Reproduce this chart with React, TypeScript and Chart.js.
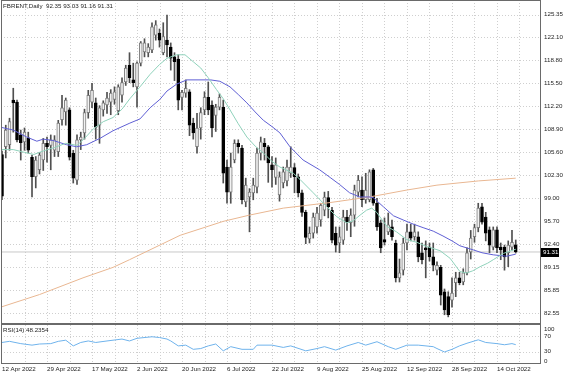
import React, { useEffect, useRef } from 'react';
import { Chart, registerables } from 'chart.js';

Chart.register(...registerables);

// ---------- data ----------
const symbolName = 'FBRENT,Daily';
const dateLabels = ['12 Apr 2022', '29 Apr 2022', '17 May 2022', '2 Jun 2022', '20 Jun 2022', '6 Jul 2022', '22 Jul 2022', '9 Aug 2022', '25 Aug 2022', '12 Sep 2022', '28 Sep 2022', '14 Oct 2022'];
const dateLabelBars = [0, 12, 24, 36, 48, 60, 72, 84, 96, 108, 120, 132];
const gridBars = [6, 12, 18, 24, 30, 36, 42, 48, 54, 60, 66, 72, 78, 84, 90, 96, 102, 108, 114, 120, 126, 132, 138];
const priceTicks = [125.35, 122.10, 118.80, 115.50, 112.20, 108.90, 105.60, 102.30, 99.00, 95.70, 92.40, 89.15, 85.85, 82.55];
const rsiTicks = [100, 70, 30, 0];
const rsiLevels = [70, 30];

const openP = [
  105.3, 106.4, 106.7, 113.1, 112.8, 108.1, 107.1, 107.7, 104.9, 102.1,
  103.1, 104.5, 106.9, 106.6, 105.9, 105.7, 110.3, 111.4, 111.7, 105.5,
  101.6, 107.4, 108.4, 111.3, 112.8, 112.7, 109.5, 111.7, 112.4, 112.8,
  113.2, 111.6, 113.8, 115.7, 118.1, 116.0, 115.0, 118.4, 120.0, 119.9,
  120.3, 122.4, 122.7, 119.9, 121.7, 120.7, 119.3, 119.0, 113.5, 114.1,
  114.3, 109.8, 106.4, 109.1, 111.7, 113.5, 112.4, 110.9, 112.1, 112.1,
  103.5, 99.9, 104.5, 106.9, 106.2, 98.5, 99.2, 99.8, 100.6, 105.5,
  106.9, 106.4, 103.8, 102.0, 99.5, 101.2, 101.5, 102.6, 103.4, 102.1,
  99.8, 97.0, 93.2, 94.0, 94.9, 95.9, 97.3, 99.1, 97.3, 94.0,
  92.6, 93.0, 96.3, 95.5, 96.6, 99.9, 100.2, 98.8, 98.8, 103.1,
  98.3, 95.5, 93.1, 94.2, 94.9, 92.6, 87.6, 88.7, 92.6, 94.2,
  93.5, 93.5, 91.2, 91.9, 92.0, 90.6, 88.7, 89.1, 85.6, 84.9,
  84.4, 86.9, 87.6, 87.0, 88.3, 91.3, 93.5, 94.8, 97.8, 96.3,
  94.5, 92.0, 94.5, 92.0, 92.0, 91.2, 92.0, 92.35,
];
const highP = [
  105.8, 109.5, 110.5, 114.8, 113.1, 108.8, 109.1, 108.5, 105.2, 105.0,
  105.6, 107.6, 107.8, 108.1, 108.0, 110.2, 113.8, 113.4, 112.0, 105.9,
  108.1, 108.5, 111.8, 114.5, 115.5, 113.4, 112.3, 113.0, 114.2, 114.6,
  115.0, 115.3, 116.3, 118.1, 119.9, 118.4, 118.6, 121.5, 121.9, 121.2,
  124.2, 124.5, 123.3, 124.2, 125.3, 121.3, 119.9, 119.6, 114.5, 116.0,
  114.6, 110.5, 111.2, 112.0, 114.3, 115.7, 113.0, 112.5, 114.0, 113.1,
  104.5, 105.5, 107.4, 107.4, 106.6, 101.9, 100.4, 101.9, 106.2, 107.8,
  107.6, 106.6, 105.0, 104.8, 102.8, 103.5, 104.5, 106.4, 104.0, 102.5,
  100.2, 97.3, 94.9, 96.9, 97.7, 98.3, 99.9, 100.0, 97.7, 94.9,
  94.9, 97.3, 97.3, 97.5, 100.9, 102.3, 102.1, 102.6, 103.1, 103.3,
  99.0, 95.9, 96.2, 96.9, 95.9, 93.0, 90.3, 93.3, 95.3, 95.3,
  95.3, 94.2, 92.6, 92.9, 92.6, 92.6, 89.9, 89.4, 86.0, 85.6,
  87.6, 88.4, 88.4, 88.9, 91.9, 94.4, 95.3, 98.3, 98.3, 97.0,
  94.9, 94.9, 94.9, 92.6, 92.3, 92.9, 94.4, 93.03,
];
const lowP = [
  98.8, 104.8, 105.9, 108.5, 107.1, 104.5, 105.9, 105.5, 99.2, 100.5,
  102.5, 103.0, 104.2, 103.1, 105.0, 105.0, 109.5, 109.5, 104.5, 101.2,
  101.0, 106.0, 107.5, 110.5, 112.0, 107.5, 106.9, 110.8, 111.2, 111.0,
  112.5, 111.0, 112.8, 115.2, 115.6, 115.0, 112.1, 118.0, 119.3, 119.3,
  119.9, 121.7, 120.7, 119.6, 119.3, 117.4, 115.9, 111.7, 111.7, 113.5,
  108.0, 107.5, 105.5, 107.5, 111.0, 111.0, 107.8, 108.6, 111.7, 101.2,
  98.3, 98.3, 104.1, 105.5, 98.2, 97.8, 94.2, 98.8, 99.8, 104.5,
  104.5, 101.3, 100.6, 101.0, 98.6, 100.5, 100.8, 102.0, 99.8, 99.2,
  96.4, 92.5, 92.6, 93.3, 94.0, 95.0, 96.5, 96.2, 92.6, 91.3,
  91.2, 92.4, 94.4, 93.5, 95.0, 99.2, 97.8, 98.3, 98.5, 98.0,
  94.4, 91.2, 92.3, 93.8, 93.0, 87.0, 87.0, 88.0, 91.6, 92.9,
  93.0, 89.9, 89.6, 87.6, 90.0, 88.6, 88.0, 83.7, 82.3, 82.0,
  83.4, 84.9, 86.6, 86.6, 88.0, 90.3, 92.7, 94.2, 95.3, 92.9,
  91.2, 91.6, 91.2, 90.2, 88.7, 89.2, 91.6, 91.16,
];
const closeP = [
  99.3, 108.8, 110.0, 112.7, 107.4, 107.0, 108.5, 105.9, 102.1, 104.5,
  105.2, 106.9, 106.4, 107.4, 107.4, 109.8, 112.0, 113.1, 104.9, 101.9,
  107.4, 107.8, 111.3, 113.8, 114.5, 109.2, 112.0, 112.7, 113.4, 114.1,
  114.3, 115.0, 115.6, 117.7, 116.3, 115.6, 118.4, 121.3, 121.3, 120.7,
  123.6, 123.9, 121.7, 122.2, 121.0, 119.1, 118.6, 113.1, 114.2, 114.8,
  109.5, 108.4, 109.1, 111.3, 113.5, 111.7, 109.1, 112.1, 113.5, 102.6,
  99.9, 103.5, 106.9, 106.4, 98.8, 100.9, 99.9, 100.9, 105.5, 107.1,
  106.4, 104.1, 103.1, 103.8, 102.1, 102.8, 103.5, 103.5, 102.1, 99.8,
  97.0, 93.4, 94.0, 96.3, 96.9, 98.0, 99.2, 97.8, 93.0, 92.3,
  93.5, 96.3, 95.6, 96.6, 100.2, 101.6, 98.8, 100.2, 102.8, 98.3,
  94.9, 91.9, 92.7, 95.2, 93.5, 87.6, 88.3, 92.6, 94.2, 93.3,
  94.2, 90.6, 90.2, 91.6, 90.6, 89.4, 89.4, 85.1, 83.0, 82.3,
  85.4, 87.6, 86.9, 88.3, 91.2, 93.3, 94.8, 97.6, 95.6, 94.0,
  92.3, 94.5, 91.9, 91.6, 90.6, 92.3, 92.7, 91.31,
];

// moving averages (bar position, value)
const maFastBars = [-0.3, 3, 6, 8.5, 11, 14, 17, 20, 22, 24.4, 27, 29.6, 32, 34.1, 36.8, 39.5, 42, 44, 46.6, 48.8, 51, 53, 55, 57.2, 59, 60.8, 63, 65.3, 67.5, 69.7, 72, 74.1, 77.7, 79.5, 83, 86.6, 89.2, 91.9, 93.7, 95.5, 97.2, 98.6, 99.9, 102.6, 105.2, 107.9, 110.6, 113.2, 116.8, 119.5, 122.1, 123.9, 125.5, 127.5, 129.5, 131, 133.7, 136.4, 137];
const maFastVals = [106.0, 106.0, 105.6, 105.3, 105.8, 106.3, 106.9, 106.6, 107.6, 109.0, 110.0, 110.6, 111.8, 113.3, 115.0, 116.8, 118.2, 119.1, 119.6, 119.6, 118.6, 117.7, 116.3, 114.6, 113.3, 111.7, 109.7, 107.8, 106.5, 105.5, 104.3, 103.5, 102.6, 101.7, 99.8, 97.8, 96.4, 95.5, 95.8, 96.6, 97.3, 97.6, 97.0, 95.0, 94.2, 93.1, 92.7, 92.1, 91.5, 90.4, 88.5, 88.3, 88.6, 89.2, 89.7, 90.2, 91.1, 91.6, 91.7];

const maMidBars = [-0.3, 3, 6.6, 9.3, 11, 13.7, 17.2, 19.9, 22.6, 26.1, 29.6, 34.1, 36.8, 39.5, 42.1, 44, 46.6, 49.3, 52, 55.6, 58.1, 60.8, 63, 65.3, 67.5, 69.7, 72, 74.1, 76.8, 80.3, 84.7, 87.5, 90, 92.7, 95.4, 98.1, 99, 101.7, 104.4, 107, 109.7, 112.3, 115, 117.6, 120, 122.1, 125.7, 128, 131, 134.6, 137];
const maMidVals = [109.2, 108.8, 107.8, 107.2, 107.5, 107.3, 106.7, 106.4, 106.7, 107.6, 108.7, 109.8, 110.4, 112.0, 113.2, 114.4, 115.4, 116.0, 116.0, 116.0, 115.8, 115.0, 113.9, 112.7, 111.4, 110.2, 109.3, 108.4, 106.4, 104.5, 103.1, 102.0, 101.0, 99.8, 99.2, 99.2, 99.1, 97.8, 96.5, 95.9, 95.3, 94.8, 94.3, 93.6, 92.9, 92.2, 91.6, 91.2, 90.9, 90.7, 91.0];

const maSlowBars = [-0.3, 10, 21.6, 29.6, 34, 47.5, 59, 66, 75, 87.5, 98, 108, 116, 127, 137];
const maSlowVals = [83.4, 85.2, 87.6, 89.1, 90.2, 93.7, 95.7, 96.6, 97.6, 98.4, 99.2, 100.2, 100.9, 101.5, 101.9];

const rsiBars = [0, 2, 5, 8, 10, 13, 15, 17, 19, 21, 23, 25, 28, 32, 34, 36, 40, 42, 44, 45, 47, 49, 51, 53, 55, 57, 59, 61, 64, 67, 68, 72, 75, 77, 81, 84, 86, 89, 92, 95, 97, 100, 103, 105, 108, 111, 115, 116, 118, 120, 122, 124, 127, 129, 132, 134, 136, 137];
const rsiVals = [54, 57, 51, 47, 50, 51, 57, 60, 45, 54, 58, 54, 58, 63, 58, 65, 69, 67, 63, 58, 45, 47, 36, 38, 45, 50, 32, 43, 36, 36, 47, 47, 41, 45, 32, 38, 43, 34, 45, 54, 47, 56, 43, 36, 47, 47, 43, 38, 29, 36, 45, 52, 61, 54, 51, 48, 51, 48.2354];
const rsiName = 'RSI(14)';

// ---------- style ----------
const X_MIN = -0.27;
const X_MAX = 143.47;
const Y_MIN = 81.12;
const Y_MAX = 127.46;
const FONT = '"Liberation Sans", Arial, sans-serif';
const FS = 6.2;
const TXT = '#1e1e1e';
const GRID = '#cfcfcf';
const FRAME = '#6a6a6a';

const drawGrid = (chart: any, yValues: number[]) => {
  const { ctx, chartArea: a, scales } = chart;
  const x = scales.x;
  const y = scales.y;
  ctx.save();
  ctx.beginPath();
  ctx.rect(a.left, a.top, a.right - a.left, a.bottom - a.top);
  ctx.clip();
  ctx.strokeStyle = GRID;
  ctx.lineWidth = 1;
  ctx.setLineDash([1, 2]);
  ctx.beginPath();
  yValues.forEach((v) => {
    const py = Math.round(y.getPixelForValue(v)) + 0.5;
    ctx.moveTo(a.left, py);
    ctx.lineTo(a.right, py);
  });
  gridBars.forEach((b) => {
    const px = Math.round(x.getPixelForValue(b)) + 0.5;
    ctx.moveTo(px, a.top);
    ctx.lineTo(px, a.bottom);
  });
  ctx.stroke();
  ctx.restore();
};

const mainPlugin = {
  id: 'mainDecor',
  beforeDatasetsDraw(chart: any) {
    drawGrid(chart, priceTicks);
  },
  afterDraw(chart: any) {
    const { ctx, chartArea: a, scales } = chart;
    const y = scales.y;
    const n = closeP.length - 1;
    ctx.save();
    ctx.strokeStyle = FRAME;
    ctx.lineWidth = 1;
    ctx.strokeRect(a.left + 0.5, a.top + 0.5, a.right - a.left, a.bottom - a.top);
    ctx.font = `${FS}px ${FONT}`;
    ctx.textBaseline = 'middle';
    ctx.textAlign = 'left';
    ctx.fillStyle = TXT;
    ctx.fillText(`${symbolName}  ${openP[n].toFixed(2)} ${highP[n].toFixed(2)} ${lowP[n].toFixed(2)} ${closeP[n].toFixed(2)}`, 3, 6);
    const py = Math.round(y.getPixelForValue(closeP[n]));
    ctx.fillStyle = '#000';
    ctx.fillRect(a.right + 1, py - 4, 18, 9);
    ctx.fillStyle = '#fff';
    ctx.fillText(closeP[n].toFixed(2), a.right + 3, py + 0.5);
    ctx.restore();
  },
};

const rsiPlugin = {
  id: 'rsiDecor',
  beforeDatasetsDraw(chart: any) {
    drawGrid(chart, rsiLevels);
  },
  afterDraw(chart: any) {
    const { ctx, chartArea: a, scales } = chart;
    const y = scales.y;
    ctx.save();
    ctx.strokeStyle = FRAME;
    ctx.lineWidth = 1;
    ctx.strokeRect(a.left + 0.5, a.top - 0.5, a.right - a.left, a.bottom - a.top + 1);
    ctx.font = `${FS}px ${FONT}`;
    ctx.textBaseline = 'middle';
    ctx.textAlign = 'left';
    ctx.fillStyle = TXT;
    ctx.fillText(`${rsiName} ${rsiVals[rsiVals.length - 1].toFixed(4)}`, 3, 6.5);
    rsiTicks.forEach((v) => {
      const py = Math.min(Math.max(y.getPixelForValue(v), a.top + 4), a.bottom - 2);
      ctx.fillText(String(v), a.right + 4, py);
    });
    ctx.restore();
  },
};

export default function App() {
  const mainRef = useRef<HTMLCanvasElement | null>(null);
  const rsiRef = useRef<HTMLCanvasElement | null>(null);

  useEffect(() => {
    document.body.style.margin = '0';
    const n = closeP.length - 1;
    const bull = openP.map((o, i) => closeP[i] >= o);

    const main = new Chart(mainRef.current as HTMLCanvasElement, {
      type: 'bar',
      data: {
        datasets: [
          { type: 'line', data: maFastBars.map((b, i) => ({ x: b, y: maFastVals[i] })), borderColor: '#8fd2bb', borderWidth: 1, pointRadius: 0, order: 0 } as any,
          { type: 'line', data: maMidBars.map((b, i) => ({ x: b, y: maMidVals[i] })), borderColor: '#5f5fd4', borderWidth: 1, pointRadius: 0, order: 0 } as any,
          { type: 'line', data: maSlowBars.map((b, i) => ({ x: b, y: maSlowVals[i] })), borderColor: '#e9b792', borderWidth: 1, pointRadius: 0, order: 0 } as any,
          {
            type: 'bar',
            data: openP.map((o, i) => ({ x: i, y: [o, closeP[i]] })),
            backgroundColor: bull.map((b) => (b ? '#f2f2f2' : '#000000')),
            borderColor: bull.map((b) => (b ? '#7c7c7c' : '#000000')),
            borderWidth: 1,
            borderSkipped: false,
            grouped: false,
            barPercentage: 1,
            categoryPercentage: 1,
            maxBarThickness: 3,
            order: 1,
          } as any,
          {
            type: 'bar',
            data: highP.map((h, i) => ({ x: i, y: [lowP[i], h] })),
            backgroundColor: '#505050',
            borderWidth: 0,
            grouped: false,
            barPercentage: 1,
            categoryPercentage: 1,
            maxBarThickness: 1,
            order: 2,
          } as any,
          { type: 'line', data: [{ x: X_MIN, y: closeP[n] }, { x: X_MAX, y: closeP[n] }], borderColor: '#c8c8c8', borderWidth: 1, pointRadius: 0, order: 3 } as any,
        ],
      },
      options: {
        animation: false,
        responsive: false,
        maintainAspectRatio: false,
        layout: { padding: { left: 1, top: 0, right: 0, bottom: 1 } },
        plugins: { legend: { display: false }, tooltip: { enabled: false } },
        scales: {
          x: { type: 'linear', min: X_MIN, max: X_MAX, display: false, offset: false, grid: { display: false } },
          y: {
            type: 'linear',
            position: 'right',
            min: Y_MIN,
            max: Y_MAX,
            grid: { display: false, drawTicks: false },
            border: { display: false },
            ticks: { font: { family: FONT, size: FS }, color: TXT, padding: 4, autoSkip: false, callback: (v: any) => Number(v).toFixed(2) },
            afterBuildTicks: (axis: any) => { axis.ticks = priceTicks.map((v) => ({ value: v })); },
            afterFit: (axis: any) => { axis.width = 24; axis.paddingTop = 0; axis.paddingBottom = 0; },
          },
        },
      } as any,
      plugins: [mainPlugin],
    });

    const rsi = new Chart(rsiRef.current as HTMLCanvasElement, {
      type: 'line',
      data: {
        datasets: [
          { data: rsiBars.map((b, i) => ({ x: b, y: rsiVals[i] })), borderColor: '#6fb3ec', borderWidth: 1, pointRadius: 0 } as any,
        ],
      },
      options: {
        animation: false,
        responsive: false,
        maintainAspectRatio: false,
        layout: { padding: { left: 1, top: 1, right: 0, bottom: 0 } },
        plugins: { legend: { display: false }, tooltip: { enabled: false } },
        scales: {
          x: {
            type: 'linear',
            min: X_MIN,
            max: X_MAX,
            offset: false,
            grid: { display: false, drawTicks: false },
            border: { display: false },
            ticks: {
              autoSkip: false,
              maxRotation: 0,
              minRotation: 0,
              align: 'start',
              padding: 3,
              font: { family: FONT, size: FS },
              color: TXT,
              callback: (v: any) => {
                const k = dateLabelBars.indexOf(Number(v));
                return k >= 0 ? dateLabels[k] : '';
              },
            },
            afterBuildTicks: (axis: any) => { axis.ticks = dateLabelBars.map((v) => ({ value: v })); },
            afterFit: (axis: any) => { axis.height = 13; axis.paddingLeft = 0; axis.paddingRight = 0; },
          },
          y: {
            type: 'linear',
            position: 'right',
            min: 0,
            max: 100,
            grid: { display: false, drawTicks: false },
            border: { display: false },
            ticks: { display: false },
            afterFit: (axis: any) => { axis.width = 24; axis.paddingTop = 0; axis.paddingBottom = 0; },
          },
        },
      } as any,
      plugins: [rsiPlugin],
    });

    return () => {
      main.destroy();
      rsi.destroy();
    };
  }, []);

  return (
    <div style={{ position: 'relative', width: 564, height: 376, background: '#ffffff', overflow: 'hidden' }}>
      <canvas ref={mainRef} width={564} height={324} style={{ position: 'absolute', left: 0, top: 0, display: 'block' }} />
      <canvas ref={rsiRef} width={564} height={52} style={{ position: 'absolute', left: 0, top: 324, display: 'block' }} />
    </div>
  );
}
